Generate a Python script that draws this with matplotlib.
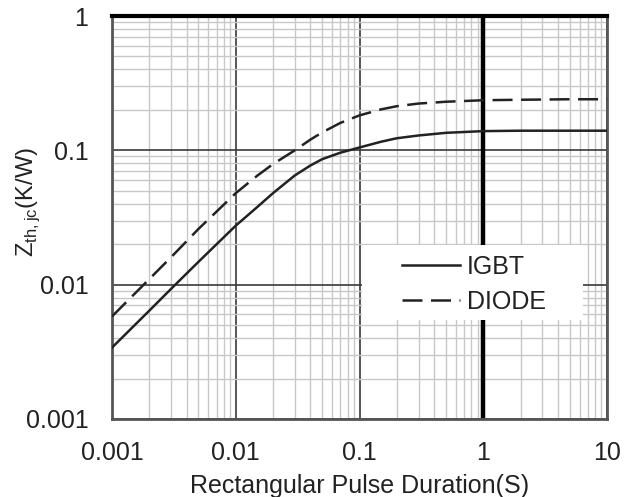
import matplotlib
matplotlib.use("Agg")
import matplotlib.pyplot as plt
from matplotlib.ticker import LogLocator, NullFormatter
from matplotlib.patches import Rectangle

# ---- data ----
pulse = [0.001, 0.002, 0.003, 0.005, 0.007, 0.01, 0.015, 0.02, 0.03, 0.04, 0.05, 0.07,
         0.1, 0.15, 0.2, 0.3, 0.5, 1, 2, 5, 10]
igbt = [0.0034, 0.0064, 0.0093, 0.0148, 0.020, 0.0275, 0.038, 0.048, 0.065, 0.077, 0.086, 0.096,
        0.105, 0.116, 0.123, 0.129, 0.135, 0.139, 0.14, 0.14, 0.14]
diode = [0.0058, 0.011, 0.016, 0.026, 0.035, 0.048, 0.065, 0.079, 0.1, 0.12, 0.136, 0.16,
         0.182, 0.202, 0.213, 0.223, 0.23, 0.236, 0.238, 0.24, 0.24]
xticks = [0.001, 0.01, 0.1, 1, 10]
xticklabels = ["0.001", "0.01", "0.1", "1", "10"]
yticks = [0.001, 0.01, 0.1, 1]
yticklabels = ["0.001", "0.01", "0.1", "1"]

plt.rcParams['font.family'] = ['Liberation Sans', 'DejaVu Sans']
plt.rcParams['mathtext.fontset'] = 'custom'
plt.rcParams['mathtext.rm'] = 'Liberation Sans'

FS = 18
TXT = '#222222'

fig = plt.figure(figsize=(6.31, 4.97), dpi=100)
ax = fig.add_axes([112/631, 1 - 419/497, 495/631, 403/497])

ax.set_xscale('log')
ax.set_yscale('log')
ax.set_xlim(0.001, 10)
ax.set_ylim(0.001, 1)

ax.set_xticks(xticks)
ax.set_xticklabels(xticklabels)
ax.set_yticks(yticks)
ax.set_yticklabels(yticklabels)
ax.xaxis.set_minor_locator(LogLocator(base=10, subs=range(2, 10)))
ax.yaxis.set_minor_locator(LogLocator(base=10, subs=range(2, 10)))
ax.xaxis.set_minor_formatter(NullFormatter())
ax.yaxis.set_minor_formatter(NullFormatter())

ax.grid(which='minor', color='#c8c8c8', linewidth=1.0)
ax.grid(which='major', color='#3a3a3a', linewidth=1.2)
ax.set_axisbelow(True)
# thick line at x = 1
ax.axvline(1, color='black', linewidth=3.2, zorder=1.5)

ax.tick_params(which='both', length=0)
ax.tick_params(axis='both', labelsize=FS, labelcolor=TXT)
ax.tick_params(axis='x', pad=16)
ax.tick_params(axis='y', pad=17)

for side in ['left', 'right', 'bottom']:
    ax.spines[side].set_color('#555555')
    ax.spines[side].set_linewidth(2)
ax.spines['top'].set_color('black')
ax.spines['top'].set_linewidth(3)

ax.plot(pulse, igbt, color=TXT, linewidth=1.8, label='IGBT', zorder=3)
ax.plot(pulse, diode, color=TXT, linewidth=1.8, linestyle=(0, (8, 3.4)), label='DIODE', zorder=3)

# white legend background box
ax.add_patch(Rectangle((0.505, 0.246), 0.447, 0.186, transform=ax.transAxes,
                       facecolor='white', edgecolor='none', zorder=2.5))
leg = ax.legend(loc='center left', bbox_to_anchor=(0.586, 0.334), borderaxespad=0,
                frameon=False, fontsize=FS, handlelength=2.3, handletextpad=0.28,
                borderpad=0, labelspacing=0.45)
leg.set_zorder(5)
for t in leg.get_texts():
    t.set_color(TXT)

ax.set_xlabel('Rectangular Pulse Duration(S)', fontsize=FS, color=TXT, labelpad=6)
ax.set_ylabel(r'Z$_{\mathregular{th,jc}}$(K/W)', fontsize=17, color=TXT)
ax.yaxis.set_label_coords(-0.142, 0.538)

fig.savefig('out.png', dpi=100)
